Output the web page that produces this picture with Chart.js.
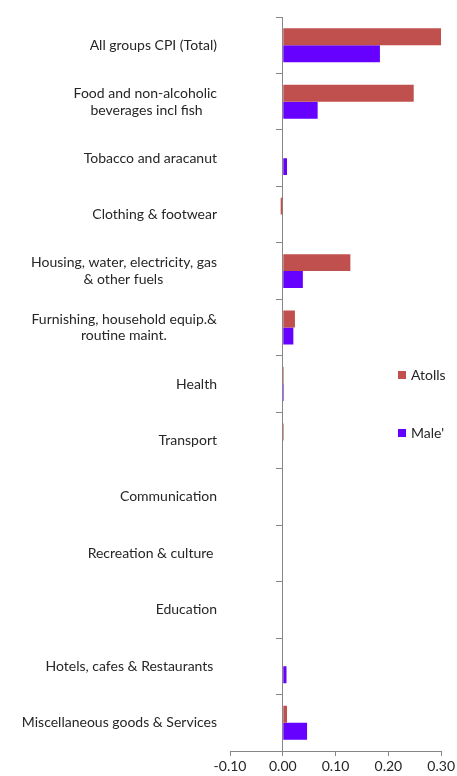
<!DOCTYPE html>
<html>
<head>
<meta charset="utf-8">
<script src="https://cdn.jsdelivr.net/npm/chart.js@4.4.1/dist/chart.umd.min.js"></script>
<style>
  html, body { margin: 0; padding: 0; background: #fff; }
  #wrap { position: relative; width: 457px; height: 776px; }
</style>
</head>
<body>
<div id="wrap"><canvas id="c" width="457" height="776"></canvas></div>
<script>
const categories = [
  "All groups CPI (Total)",
  ["Food and non-alcoholic", "beverages incl fish"],
  "Tobacco and aracanut",
  "Clothing & footwear",
  ["Housing, water, electricity, gas", "& other fuels"],
  ["Furnishing, household equip.&", "routine maint."],
  "Health",
  "Transport",
  "Communication",
  "Recreation & culture ",
  "Education",
  "Hotels, cafes & Restaurants ",
  "Miscellaneous goods & Services"
];
const seriesNames = ["Atolls", "Male'"];
const atolls = [0.300, 0.248, 0.000, -0.004, 0.128, 0.023, 0.002, 0.002, 0.000, 0.000, 0.000, 0.000, 0.008];
const male   = [0.184, 0.066, 0.008, 0.000, 0.038, 0.020, 0.002, 0.000, 0.000, 0.000, 0.000, 0.007, 0.046];
const xMin = -0.10, xMax = 0.30, xStep = 0.10;

const FONT = "Lato, 'Open Sans', sans-serif";
const colors = ["#C0504D", "#6600FF"];
const axisGray = "#868686";

// center shorter lines of multi-line labels by padding with spaces (label block right-aligned)
function centerLines(lines, ctx) {
  const w = lines.map(l => ctx.measureText(l).width);
  const maxW = Math.max(...w);
  const sp = ctx.measureText(" ").width;
  return lines.map((l, i) => l + " ".repeat(Math.round((maxW - w[i]) / 2 / sp)));
}
const mctx = document.createElement("canvas").getContext("2d");
mctx.font = "14px " + FONT;

const legendPlugin = {
  id: "sideLegend",
  afterDraw(chart) {
    const ctx = chart.ctx;
    ctx.save();
    const ys = [375, 433];
    ctx.font = "14px " + FONT;
    ctx.textBaseline = "middle";
    ctx.textAlign = "left";
    seriesNames.forEach((name, i) => {
      ctx.fillStyle = colors[i];
      ctx.fillRect(398, ys[i] - 4, 8, 8);
      ctx.fillStyle = "#262626";
      ctx.fillText(name, 411, ys[i]);
    });
    ctx.restore();
  }
};

new Chart(document.getElementById("c"), {
  type: "bar",
  data: {
    labels: categories,
    datasets: [
      { label: seriesNames[0], data: atolls, backgroundColor: colors[0], categoryPercentage: 0.6, barPercentage: 1.0 },
      { label: seriesNames[1], data: male, backgroundColor: colors[1], categoryPercentage: 0.6, barPercentage: 1.0 }
    ]
  },
  options: {
    indexAxis: "y",
    responsive: false,
    animation: false,
    devicePixelRatio: 1,
    layout: { padding: { top: 17, right: 15, left: 0, bottom: 0 } },
    plugins: { legend: { display: false }, tooltip: { enabled: false } },
    scales: {
      x: {
        min: xMin, max: xMax,
        ticks: {
          stepSize: xStep,
          color: "#262626",
          font: { family: FONT, size: 14 },
          padding: 2,
          callback: v => Number(v).toFixed(2)
        },
        grid: {
          color: ctx => (ctx.tick && Math.abs(ctx.tick.value) < 1e-9) ? axisGray : "rgba(0,0,0,0)",
          tickColor: axisGray,
          tickLength: 5
        },
        border: { display: true, color: axisGray },
        afterFit: s => { s.height = 25; }
      },
      y: {
        ticks: {
          color: "#262626",
          font: { family: FONT, size: 14 },
          padding: 0,
          callback: function(v, i) {
            const raw = categories[i];
            return Array.isArray(raw) ? centerLines(raw, mctx) : raw;
          }
        },
        grid: { display: true, drawOnChartArea: false, drawTicks: true, tickLength: 13, color: "rgba(0,0,0,0)", tickColor: "rgba(0,0,0,0)" },
        border: { display: false },
        afterFit: s => { s.width = 230; }
      },
      y2: {
        type: "category",
        labels: categories.map((c, i) => String(i)),
        position: { x: 0 },
        offset: true,
        ticks: { display: false },
        grid: { offset: true, drawOnChartArea: false, tickLength: 6, color: axisGray, tickColor: axisGray },
        border: { display: true, color: axisGray }
      }
    }
  },
  plugins: [legendPlugin]
});
</script>
</body>
</html>
